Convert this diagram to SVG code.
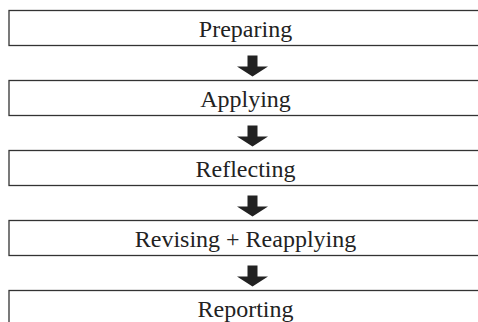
<svg xmlns="http://www.w3.org/2000/svg" width="478" height="322" viewBox="0 0 478 322">
<style>
.box{fill:#fff;stroke:#333;stroke-width:1.3}
.lbl{font-family:"Liberation Serif","Times New Roman",serif;font-size:24px;fill:#222;text-anchor:middle}
.arr{fill:#222}
</style>
<defs>
<path id="dn" d="M-5,0 H5 V11 H15.5 L0,21 L-15.5,11 H-5 Z"/>
</defs>
<rect width="478" height="322" fill="#fff"/>
<g id="connectors">
<use href="#dn" class="arr" x="252.5" y="55.5"/>
<use href="#dn" class="arr" x="252.5" y="125.5"/>
<use href="#dn" class="arr" x="252.5" y="195.5"/>
<use href="#dn" class="arr" x="252.5" y="265.5"/>
</g>
<g id="preparing"><rect class="box" x="9" y="10.5" width="480" height="35"/><text class="lbl" x="245.5" y="36.5">Preparing</text></g>
<g id="applying"><rect class="box" x="9" y="80.5" width="480" height="35"/><text class="lbl" x="245.5" y="106.5">Applying</text></g>
<g id="reflecting"><rect class="box" x="9" y="150.5" width="480" height="35"/><text class="lbl" x="245.5" y="176.5">Reflecting</text></g>
<g id="revising"><rect class="box" x="9" y="220.5" width="480" height="35"/><text class="lbl" x="245.5" y="246.5">Revising + Reapplying</text></g>
<g id="reporting"><rect class="box" x="9" y="290.5" width="480" height="35"/><text class="lbl" x="245.5" y="316.5">Reporting</text></g>
</svg>
